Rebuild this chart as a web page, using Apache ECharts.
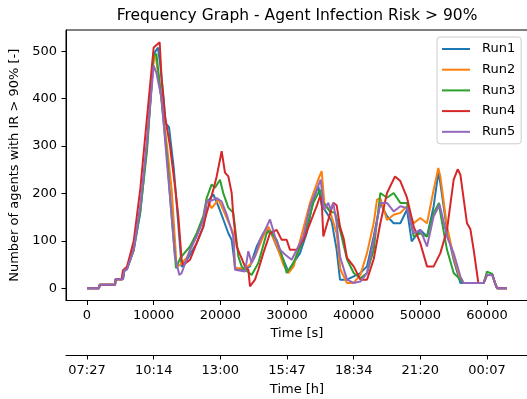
<!DOCTYPE html>
<html>
<head>
<meta charset="utf-8">
<script src="https://cdn.jsdelivr.net/npm/echarts@6/dist/echarts.min.js"></script>
<style>
  html, body { margin: 0; padding: 0; background: #fff; }
  #chart { width: 527px; height: 399px; }
</style>
</head>
<body>
<div id="chart"></div>
<script>
// Tick positions / labels
const secTicks = [0, 10000, 20000, 30000, 40000, 50000, 60000];
const hourLabels = ['07:27', '10:14', '13:00', '15:47', '18:34', '21:20', '00:07'];
const countTicks = [0, 100, 200, 300, 400, 500];

const runNames = ['Run1', 'Run2', 'Run3', 'Run4', 'Run5'];
const runColors = ['#1f77b4', '#ff7f0e', '#2ca02c', '#d62728', '#9467bd'];

// Run1: time [s] / agents with IR > 90%
const run1Time = [0,1800,1900,4200,4300,5400,5600,6000,7000,8000,9000,10000,10650,11000,11500,11800,12300,13000,13500,14000,14200,15000,15450,16450,17450,17950,18950,19700,20450,21200,21700,22200,22500,23500,24450,25450,26450,27450,28450,29450,30200,30950,31950,32950,33950,34700,35200,35950,36700,37450,37950,39000,40000,41000,42000,43000,44000,45000,46000,47000,48000,48700,49000,50000,51000,52000,52700,53000,54000,55000,56000,59500,60000,60800,61200,61500,63000];
const run1Count = [0,0,7,7,19,19,36,40,80,160,300,494,508,470,400,348,340,255,170,80,45,60,71,95,130,180,198,173,145,116,102,46,39,39,46,88,116,123,88,60,35,53,74,116,187,215,175,159,141,81,18,18,25,32,46,109,180,152,137,137,166,99,102,123,109,173,244,222,123,60,11,11,28,28,11,0,0];

// Run2
const run2Time = [0,1800,1900,4200,4300,5300,5500,6000,7000,8000,9000,10000,10300,11000,12000,12700,13450,14000,15000,16450,17450,17950,18700,19700,20450,21200,21950,22200,23500,24450,25450,26450,27200,28450,29450,30200,31000,32000,33450,34700,35200,35600,36450,37450,38000,39000,40000,41000,42000,43000,43500,44000,45000,46000,47000,48000,49000,50000,51000,52000,52700,53000,54000,55000,56000,56500,59500,60000,60800,61200,61500,63000];
const run2Count = [0,0,7,7,19,19,38,45,85,170,310,484,490,420,300,208,45,50,65,113,145,187,169,187,165,140,116,42,42,49,75,110,130,90,50,32,46,102,180,230,247,180,162,116,40,11,11,28,74,137,187,190,144,155,159,173,137,148,137,208,254,236,130,67,18,11,11,28,28,11,0,0];

// Run3
const run3Time = [0,1800,1900,4200,4300,5400,5600,6000,7000,8000,9000,10000,10400,11000,12000,12700,13350,14000,15450,16450,17450,17950,18700,19200,19950,20450,21200,21950,22700,23200,24700,25700,26950,27450,28450,29450,29950,30950,32450,33950,34950,35450,36450,37200,38000,39000,40000,41000,42000,43000,44000,45000,46000,47000,48000,49000,50000,51000,52000,52800,53000,54000,55000,56000,56500,59500,60000,60800,61200,61500,63000];
const run3Count = [0,0,7,7,19,19,38,42,80,165,290,490,495,420,280,150,42,64,88,116,152,190,219,212,229,200,170,159,67,46,28,53,116,120,102,60,32,53,102,180,208,180,162,159,120,61,32,21,32,81,201,191,201,180,180,109,116,109,159,180,159,81,32,18,11,11,35,30,11,0,0];

// Run4
const run4Time = [0,1800,1900,4200,4300,5200,5400,6000,7000,8000,9000,10000,10900,11200,11700,12450,13200,13700,14200,14450,15450,16450,17450,17950,18950,19450,20200,20700,21200,21700,21950,22450,22950,23700,24200,24450,25200,25700,26450,27450,28450,29200,29950,30450,31450,32450,33450,34450,34950,35200,35450,36200,36950,37450,37950,38500,39000,40000,41000,42000,43000,44000,45000,46200,47000,48000,49000,50000,51000,52000,53000,54000,55000,55600,56000,57000,57500,58000,58700,59500,60000,60800,61200,61500,63000];
const run4Count = [0,0,7,7,19,19,38,45,99,210,360,508,519,440,363,300,215,152,60,49,60,95,130,159,208,236,289,244,236,201,152,88,71,46,39,4,18,39,74,116,123,102,102,81,81,102,137,173,194,185,109,145,180,175,130,105,64,46,18,18,61,137,201,236,226,191,130,95,46,46,74,123,229,251,240,137,125,81,11,11,28,28,11,0,0];

// Run5
const run5Time = [0,1800,1900,4200,4300,5400,5600,6000,7000,8000,9000,10000,10400,11200,11950,12700,13200,13850,14200,15450,16450,17450,17950,18700,19450,20200,20950,21950,22200,23700,24200,24700,25200,25950,26950,27450,28200,28950,29700,30700,31700,32450,33450,34450,35050,35550,36200,36550,36950,37450,37950,39000,40000,41000,42000,43000,44000,45000,46000,47000,48000,49000,50000,51000,52000,52900,53000,54000,55000,56000,56500,59500,60000,60800,61200,61500,63000];
const run5Count = [0,0,7,7,19,19,38,40,81,176,310,470,455,399,272,152,67,28,32,81,109,145,183,185,190,183,156,109,39,35,78,53,67,102,130,145,109,81,71,60,88,109,173,208,229,166,180,166,180,137,67,18,11,14,32,102,180,180,162,173,169,116,123,88,152,176,173,109,74,25,11,11,28,28,11,0,0];

const runTimes = [run1Time, run2Time, run3Time, run4Time, run5Time];
const runCounts = [run1Count, run2Count, run3Count, run4Count, run5Count];

const FONT = 'DejaVu Sans';
const chart = echarts.init(document.getElementById('chart'), null, { renderer: 'canvas' });

const series = runNames.map((name, i) => ({
  name: name,
  type: 'line',
  xAxisIndex: 0,
  yAxisIndex: 0,
  showSymbol: false,
  symbol: 'none',
  data: runTimes[i].map((t, k) => [t, runCounts[i][k]]),
  lineStyle: { color: runColors[i], width: 2 },
  itemStyle: { color: runColors[i] },
  z: 2 + i,
  animation: false
}));

const baseX = {
  type: 'value',
  min: -3150,
  max: 66150,
  splitLine: { show: false },
  axisLine: { show: true, onZero: false, lineStyle: { color: '#000', width: 1 } },
  axisTick: { show: true, length: 4.5, inside: false, customValues: secTicks, lineStyle: { color: '#000', width: 1 } },
  nameLocation: 'middle',
  nameTextStyle: { fontFamily: FONT, fontSize: 13, color: '#000' }
};

chart.setOption({
  animation: false,
  backgroundColor: '#fff',
  title: {
    text: 'Frequency Graph - Agent Infection Risk > 90%',
    left: 297,
    textAlign: 'center',
    top: 8,
    padding: 0,
    textStyle: { fontFamily: FONT, fontSize: 15.5, fontWeight: 'normal', color: '#000' }
  },
  legend: {
    data: runNames,
    orient: 'vertical',
    left: 437,
    top: 37,
    padding: [5, 6, 5, 5],
    itemGap: 6.7,
    itemWidth: 28,
    itemHeight: 2,
    icon: 'rect',
    backgroundColor: '#fff',
    borderColor: '#cccccc',
    borderWidth: 1,
    borderRadius: 3,
    textStyle: { fontFamily: FONT, fontSize: 13, color: '#000', lineHeight: 14, padding: [0, 0, 0, 7] }
  },
  grid: {
    left: 66,
    top: 30,
    width: 462,
    height: 270.5,
    containLabel: false,
    outerBoundsMode: 'none',
    show: true,
    borderColor: '#000',
    borderWidth: 1,
    backgroundColor: 'transparent'
  },
  xAxis: [
    Object.assign({}, baseX, {
      position: 'bottom',
      name: 'Time [s]',
      nameGap: 26,
      axisLabel: {
        customValues: secTicks,
        margin: 9,
        fontFamily: FONT, fontSize: 13, color: '#000',
        formatter: v => String(v)
      }
    }),
    Object.assign({}, baseX, {
      position: 'bottom',
      offset: 54.5,
      name: 'Time [h]',
      nameGap: 28.5,
      axisLabel: {
        customValues: secTicks,
        margin: 9,
        fontFamily: FONT, fontSize: 13, color: '#000',
        formatter: v => hourLabels[secTicks.indexOf(v)]
      }
    })
  ],
  yAxis: {
    type: 'value',
    min: -26,
    max: 545,
    splitLine: { show: false },
    axisLine: { show: true, onZero: false, lineStyle: { color: '#000', width: 1 } },
    axisTick: { show: true, length: 4.5, customValues: countTicks, lineStyle: { color: '#000', width: 1 } },
    axisLabel: { customValues: countTicks, margin: 9, fontFamily: FONT, fontSize: 13, color: '#000', formatter: v => String(v) },
    name: 'Number of agents with IR > 90% [-]',
    nameLocation: 'middle',
    nameGap: 43,
    nameTextStyle: { fontFamily: FONT, fontSize: 13, color: '#000' }
  },
  series: series
});
</script>
</body>
</html>
